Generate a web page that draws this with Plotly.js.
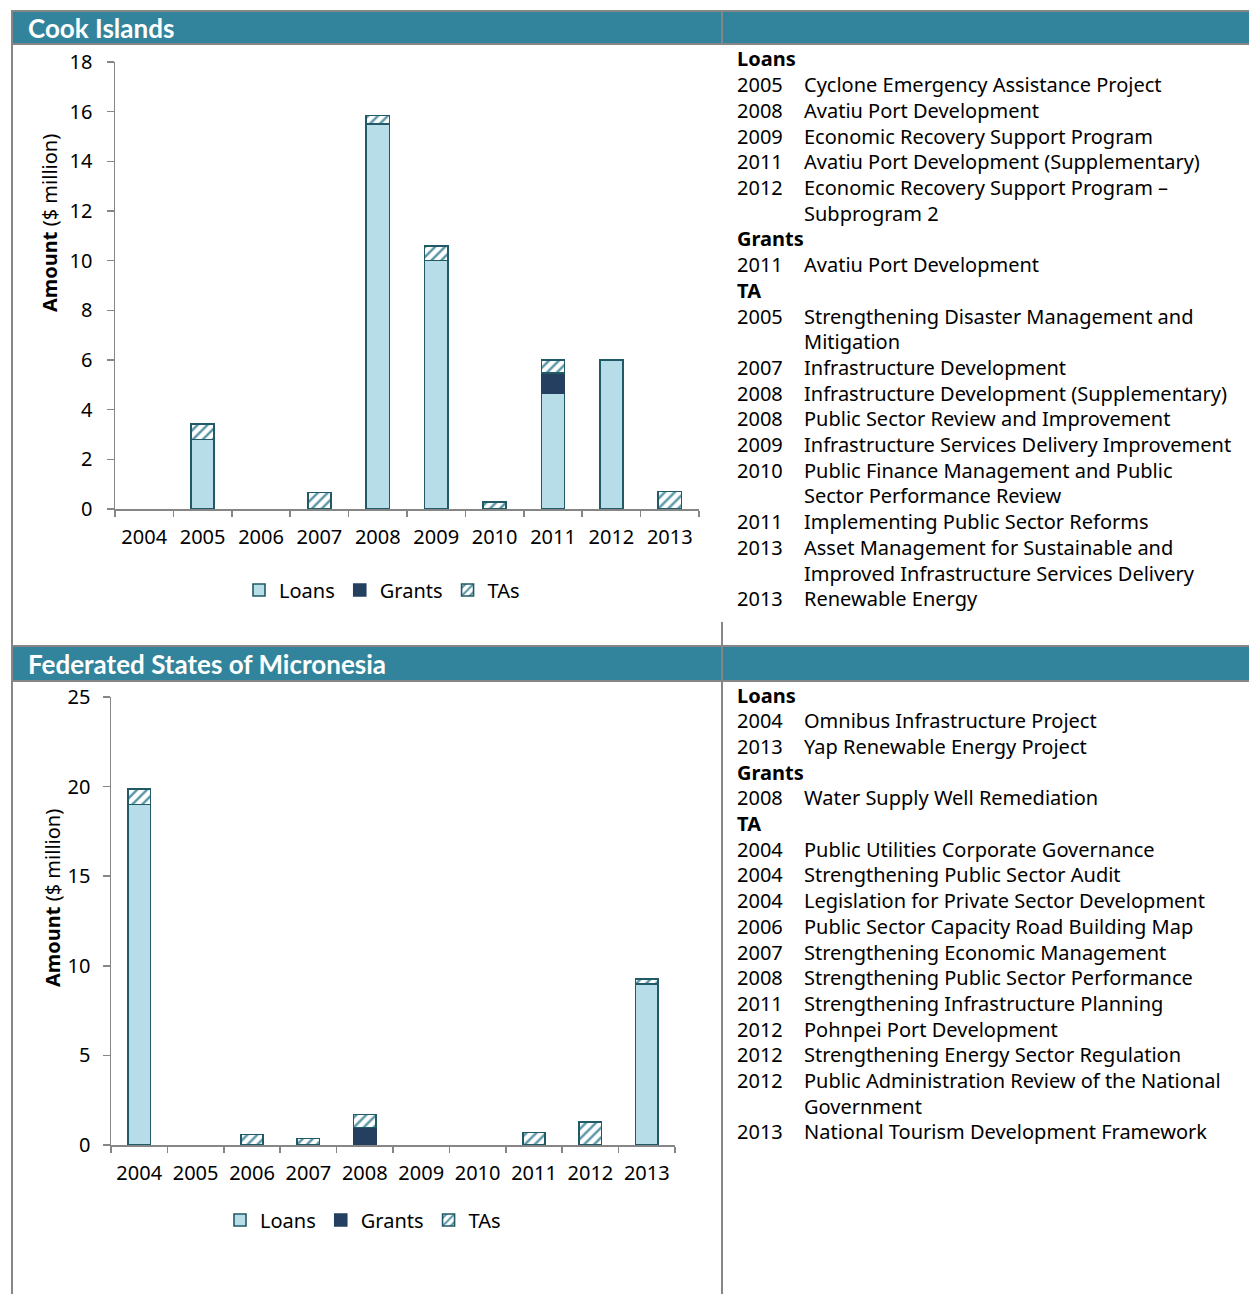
<!DOCTYPE html>
<html><head><meta charset="utf-8">
<script src="https://cdn.plot.ly/plotly-3.0.1.min.js"></script>
<style>html,body{margin:0;padding:0;background:#fff}#c{width:1249px;height:1294px}</style>
</head><body><div id="c"></div>
<script>
// ---------- data ----------
const years = ['2004','2005','2006','2007','2008','2009','2010','2011','2012','2013'];
const ciLoans  = [null, 2.8, null, null, 15.5, 10.0, null, 4.66, 6.0, null];
const ciGrants = [null, null, null, null, null, null, null, 0.82, null, null];
const ciTAs    = [null, 0.62, null, 0.67, 0.35, 0.6, 0.27, 0.52, null, 0.71];
const fsmLoans  = [19.0, null, null, null, null, null, null, null, null, 9.0];
const fsmGrants = [null, null, null, null, 0.97, null, null, null, null, null];
const fsmTAs    = [0.85, null, 0.58, 0.37, 0.74, null, null, 0.69, 1.3, 0.25];
const ciTicks = [0,2,4,6,8,10,12,14,16,18];
const fsmTicks = [0,5,10,15,20,25];
const seriesNames = ['Loans','Grants','TAs'];

const ciTitle = 'Cook Islands';
const fsmTitle = 'Federated States of Micronesia';
const ciList = [
  ['h','Loans'],
  ['2005','Cyclone Emergency Assistance Project'],
  ['2008','Avatiu Port Development'],
  ['2009','Economic Recovery Support Program'],
  ['2011','Avatiu Port Development (Supplementary)'],
  ['2012','Economic Recovery Support Program –'],
  ['','Subprogram 2'],
  ['h','Grants'],
  ['2011','Avatiu Port Development'],
  ['h','TA'],
  ['2005','Strengthening Disaster Management and'],
  ['','Mitigation'],
  ['2007','Infrastructure Development'],
  ['2008','Infrastructure Development (Supplementary)'],
  ['2008','Public Sector Review and Improvement'],
  ['2009','Infrastructure Services Delivery Improvement'],
  ['2010','Public Finance Management and Public'],
  ['','Sector Performance Review'],
  ['2011','Implementing Public Sector Reforms'],
  ['2013','Asset Management for Sustainable and'],
  ['','Improved Infrastructure Services Delivery'],
  ['2013','Renewable Energy']
];
const fsmList = [
  ['h','Loans'],
  ['2004','Omnibus Infrastructure Project'],
  ['2013','Yap Renewable Energy Project'],
  ['h','Grants'],
  ['2008','Water Supply Well Remediation'],
  ['h','TA'],
  ['2004','Public Utilities Corporate Governance'],
  ['2004','Strengthening Public Sector Audit'],
  ['2004','Legislation for Private Sector Development'],
  ['2006','Public Sector Capacity Road Building Map'],
  ['2007','Strengthening Economic Management'],
  ['2008','Strengthening Public Sector Performance'],
  ['2011','Strengthening Infrastructure Planning'],
  ['2012','Pohnpei Port Development'],
  ['2012','Strengthening Energy Sector Regulation'],
  ['2012','Public Administration Review of the National'],
  ['','Government'],
  ['2013','National Tourism Development Framework']
];

// ---------- styling ----------
const W = 1249, H = 1294;
const px = x => x / W, py = y => 1 - y / H;
const FONT = '"Noto Sans", "Open Sans", sans-serif';
const HFONT = 'Lato, "Noto Sans", sans-serif';
const edge = '#215967';
const teal = '#31849B';
const gray = '#868686';

function bars(xa, ya, loans, grants, tas, legend) {
  return [
    {type:'bar', name:seriesNames[0], x:years, y:loans, xaxis:xa, yaxis:ya, legend:legend,
     marker:{color:'#B7DDE8', line:{color:edge, width:1.6}}, hoverinfo:'y'},
    {type:'bar', name:seriesNames[1], x:years, y:grants, xaxis:xa, yaxis:ya, legend:legend,
     marker:{color:'#243F60', line:{color:'#243F60', width:1.6}}, hoverinfo:'y'},
    {type:'bar', name:seriesNames[2], x:years, y:tas, xaxis:xa, yaxis:ya, legend:legend,
     marker:{color:'#ffffff', line:{color:edge, width:1.6},
       pattern:{shape:'/', fgcolor:'#5A96A6', bgcolor:'#ffffff', size:7, solidity:0.35}}, hoverinfo:'y'}
  ];
}
const data = [...bars('x','y',ciLoans,ciGrants,ciTAs,'legend'),
              ...bars('x2','y2',fsmLoans,fsmGrants,fsmTAs,'legend2')];

function xax(d, anchor) {
  return {domain:d, anchor:anchor, type:'category', tickson:'boundaries', ticks:'outside',
    ticklen:6, tickcolor:gray, tickwidth:1.5, showline:true, linecolor:gray, linewidth:1.5,
    showgrid:false, zeroline:false, ticklabelstandoff:9,
    tickfont:{family:FONT, size:20, color:'#000'}, fixedrange:true};
}
function yax(d, anchor, range, ticks, standoff) {
  return {domain:d, anchor:anchor, range:range, tickvals:ticks, ticks:'outside', ticklen:7,
    tickcolor:gray, tickwidth:1.5, showline:true, linecolor:gray, linewidth:1.5,
    showgrid:false, zeroline:false, ticklabelstandoff:standoff,
    tickfont:{family:FONT, size:20, color:'#000'}, fixedrange:true};
}

const shapes = [];
const line = (x0,y0,x1,y1,c,w) => shapes.push({type:'line', xref:'paper', yref:'paper',
  x0:px(x0), y0:py(y0), x1:px(x1), y1:py(y1), line:{color:c, width:w}});
const rect = (x0,y0,x1,y1,c) => shapes.push({type:'rect', xref:'paper', yref:'paper',
  x0:px(x0), y0:py(y0), x1:px(x1), y1:py(y1), fillcolor:c, line:{width:0}, layer:'below'});
// headers
[[11,44],[646,681]].forEach(([a,b]) => {
  rect(12,a,1249,b,teal);
  line(12,a,1249,a,gray,2);
  line(12,b,1249,b,gray,2);
  line(722,a,722,b,gray,2);
});
line(12,10,12,1294,gray,2);
line(722,622,722,1294,gray,2);

const annotations = [];
const txt = (x,y,t,opts={}) => annotations.push(Object.assign({xref:'paper', yref:'paper',
  x:px(x), y:py(y), text:t, showarrow:false, xanchor:'left', yanchor:'middle',
  font:{family:FONT, size:20, color:'#000'}}, opts));

txt(26,28,ciTitle,{font:{family:HFONT, size:26, color:'#fff', weight:700}});
txt(26,664,fsmTitle,{font:{family:HFONT, size:26, color:'#fff', weight:700}});

function list(items, y0) {
  const step = 25.7;
  items.forEach((r,i) => {
    const y = y0 + i*step;
    if (r[0] === 'h') { txt(735,y,'<b>'+r[1]+'</b>'); }
    else { if (r[0]) txt(735,y,r[0]); txt(802,y,r[1]); }
  });
}
list(ciList, 59);
list(fsmList, 695);

// y axis titles
txt(49,223,'<b>Amount</b> ($ million)',{textangle:-90, xanchor:'center'});
txt(52,898,'<b>Amount</b> ($ million)',{textangle:-90, xanchor:'center'});

const legendBase = {orientation:'h', xref:'paper', yref:'paper', xanchor:'center', yanchor:'middle',
  font:{family:FONT, size:20, color:'#000'}, bgcolor:'rgba(0,0,0,0)', itemwidth:30,
  traceorder:'normal', itemclick:false, itemdoubleclick:false};

const layout = {
  width:W, height:H, margin:{l:0,r:0,t:0,b:0}, paper_bgcolor:'#fff', plot_bgcolor:'#fff',
  barmode:'stack', bargap:0.6, showlegend:true,
  xaxis: xax([px(115),px(699)],'y'),
  yaxis: yax([py(509),py(62)],'x',[0,18],ciTicks,10),
  xaxis2: xax([px(111),px(675)],'y2'),
  yaxis2: yax([py(1145),py(697)],'x2',[0,25],fsmTicks,8),
  legend: Object.assign({}, legendBase, {x:px(382), y:py(590)}),
  legend2: Object.assign({}, legendBase, {x:px(363), y:py(1220)}),
  shapes:shapes, annotations:annotations
};
Plotly.newPlot('c', data, layout, {displayModeBar:false, staticPlot:true});
</script></body></html>
